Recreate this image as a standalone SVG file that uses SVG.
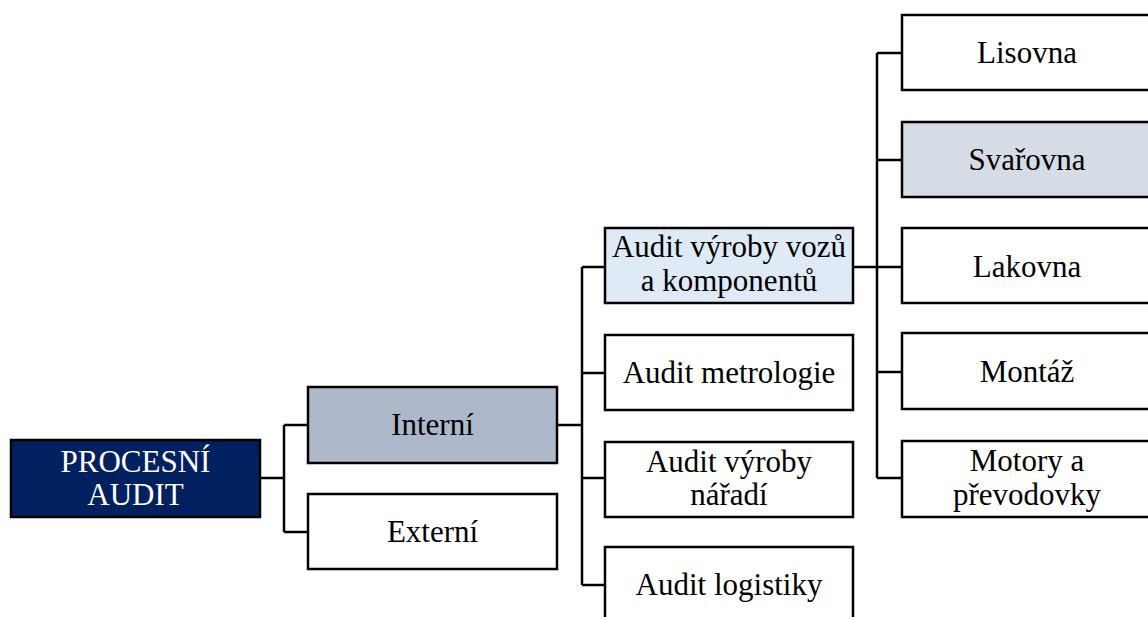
<svg xmlns="http://www.w3.org/2000/svg" width="1148" height="617" viewBox="0 0 1148 617">
  <style>
    .box { stroke: #000; stroke-width: 2.5; fill: #fff; }
    .root { fill: #002060; }
    .grey { fill: #ADB9CA; }
    .pale { fill: #D6DCE5; }
    .blue { fill: #DEEBF7; }
    .lbl { font-family: "Liberation Serif", "Times New Roman", serif; font-size: 31px; text-anchor: middle; fill: #000; }
    .lbl.inv { fill: #fff; }
    .wire { stroke: #000; stroke-width: 2.5; fill: none; }
  </style>
  <rect width="1148" height="617" fill="#fff"/>

  <g id="connectors">
    <!-- root to level 1 -->
    <path class="wire" d="M260 478 H284 M284 425 V532 M284 425 H308 M284 532 H308"/>
    <!-- Interní to audits -->
    <path class="wire" d="M557 425 H582 M582 267 V585 M582 267 H605 M582 373 H605 M582 478 H605 M582 585 H605"/>
    <!-- car production audit to shops -->
    <path class="wire" d="M853 267 H877 M877 53 V478 M877 53 H902 M877 160 H902 M877 267 H902 M877 372 H902 M877 478 H902"/>
  </g>

  <g id="procesni-audit">
    <rect class="box root" x="11" y="440" width="249" height="77"/>
    <text class="lbl inv" x="135.5" y="472">PROCESNÍ</text>
    <text class="lbl inv" x="135.5" y="505">AUDIT</text>
  </g>

  <g id="interni">
    <rect class="box grey" x="308" y="387" width="249" height="76"/>
    <text class="lbl" x="432.5" y="435">Interní</text>
  </g>

  <g id="externi">
    <rect class="box" x="308" y="494" width="249" height="75"/>
    <text class="lbl" x="432.5" y="542">Externí</text>
  </g>

  <g id="audit-vyroby-vozu">
    <rect class="box blue" x="605" y="228" width="248" height="75"/>
    <text class="lbl" x="729" y="257">Audit výroby vozů</text>
    <text class="lbl" x="729" y="291">a komponentů</text>
  </g>

  <g id="audit-metrologie">
    <rect class="box" x="605" y="335" width="248" height="75"/>
    <text class="lbl" x="729" y="383">Audit metrologie</text>
  </g>

  <g id="audit-vyroby-naradi">
    <rect class="box" x="605" y="442" width="248" height="75"/>
    <text class="lbl" x="729" y="472">Audit výroby</text>
    <text class="lbl" x="729" y="505">nářadí</text>
  </g>

  <g id="audit-logistiky">
    <rect class="box" x="605" y="547" width="248" height="76"/>
    <text class="lbl" x="729" y="595">Audit logistiky</text>
  </g>

  <g id="lisovna">
    <rect class="box" x="902" y="15" width="250" height="75"/>
    <text class="lbl" x="1027" y="63">Lisovna</text>
  </g>

  <g id="svarovna">
    <rect class="box pale" x="902" y="122" width="250" height="75"/>
    <text class="lbl" x="1027" y="170">Svařovna</text>
  </g>

  <g id="lakovna">
    <rect class="box" x="902" y="228" width="250" height="75"/>
    <text class="lbl" x="1027" y="277">Lakovna</text>
  </g>

  <g id="montaz">
    <rect class="box" x="902" y="333" width="250" height="76"/>
    <text class="lbl" x="1027" y="382">Montáž</text>
  </g>

  <g id="motory">
    <rect class="box" x="902" y="441" width="250" height="76"/>
    <text class="lbl" x="1027" y="471">Motory a</text>
    <text class="lbl" x="1027" y="505">převodovky</text>
  </g>
</svg>
